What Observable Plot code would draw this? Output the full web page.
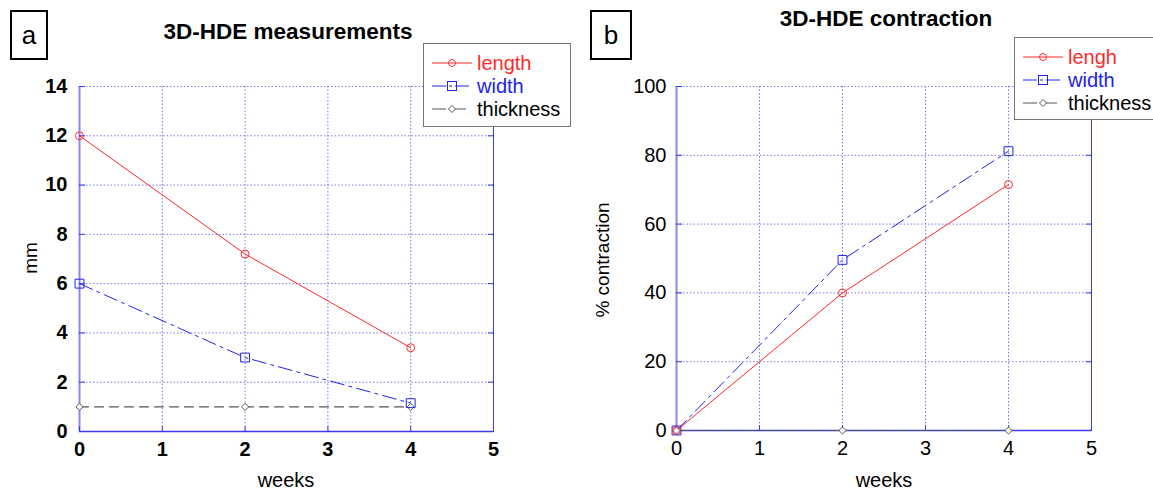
<!DOCTYPE html>
<html>
<head>
<meta charset="utf-8">
<script src="https://cdn.jsdelivr.net/npm/d3@7"></script>
<script src="https://cdn.jsdelivr.net/npm/@observablehq/plot@0.6"></script>
<style>
  body { margin: 0; background: #fff; }
  #wrap { position: relative; width: 1153px; height: 492px; overflow: hidden; font-family: "Liberation Sans", Arial, sans-serif; }
  .panel { position: absolute; top: 0; }
  .tag { position: absolute; border: 2px solid #000; font-size: 26px; text-align: center; box-sizing: border-box; background: #fff; }
  .title { position: absolute; font-weight: bold; font-size: 22.5px; white-space: nowrap; transform: translateX(-50%); }
  .xlab { position: absolute; font-size: 20px; transform: translateX(-50%); white-space: nowrap; }
  .ylab { position: absolute; font-size: 19px; transform: translate(-50%, -50%) rotate(-90deg); white-space: nowrap; }
  .legend { position: absolute; background: #fff; border: 1px solid #777; box-sizing: border-box; }
  .legend .row { position: absolute; left: 7px; height: 22px; display: flex; align-items: center; font-size: 20px; white-space: nowrap; }
  .legend svg { margin-right: 4px; }
</style>
</head>
<body>
<div id="wrap"></div>
<script>
// ---- data ----
const weeks = [0, 2, 4];
const lengthMM = [12, 7.2, 3.4];
const widthMM = [6, 3, 1.15];
const thicknessMM = [1, 1, 1];
const lengthPct = [0, 40, 71.5];
const widthPct = [0, 49.6, 81.2];
const thicknessPct = [0, 0, 0];
const xTicks = [0, 1, 2, 3, 4, 5];
const yTicksA = [0, 2, 4, 6, 8, 10, 12, 14];
const yTicksB = [0, 20, 40, 60, 80, 100];
const seriesNamesA = ["length", "width", "thickness"];
const seriesNamesB = ["lengh", "width", "thickness"];

const RED = "#ff2a2a", BLUE = "#2222ee", GRAY = "#555555", AX = "#3a3aee", GRID = "#6a6aee";

function rows(vals) { return weeks.map((w, i) => ({week: w, v: vals[i]})); }

function panel({data, yDomain, yTicks, width, mL, mR, mT, mB, bold, thickDash, yPad}) {
  const [L, W, T] = data;
  const fw = bold ? "bold" : "normal";
  const marks = [
    Plot.gridX(xTicks.slice(1, -1), {stroke: GRID, strokeOpacity: 0.9, strokeDasharray: "1.5,2"}),
    Plot.gridY(yTicks.slice(1), {stroke: GRID, strokeOpacity: 0.9, strokeDasharray: "1.5,2"}),
    Plot.ruleX([xTicks[0]], {stroke: AX, strokeOpacity: 0.6, strokeWidth: 2}),
    Plot.ruleX([xTicks[xTicks.length - 1]], {stroke: AX, strokeWidth: 1}),
    Plot.ruleY([yTicks[0]], {stroke: AX, strokeWidth: 1.5}),
    Plot.axisX(xTicks, {tickSize: -5, stroke: AX, text: null, label: null}),
    Plot.axisY(yTicks, {tickSize: -6, stroke: AX, text: null, label: null}),
    Plot.axisY(yTicks, {anchor: "right", tickSize: -6, stroke: AX, text: null, label: null}),
    Plot.axisX(xTicks, {tickSize: 0, tickPadding: 10, label: null, fontWeight: fw}),
    Plot.axisY(yTicks, {tickSize: 0, tickPadding: yPad, label: null, fontWeight: fw}),
    Plot.line(rows(T), {x: "week", y: "v", stroke: GRAY, strokeWidth: 1.2, strokeDasharray: thickDash}),
    Plot.line(rows(W), {x: "week", y: "v", stroke: BLUE, strokeWidth: 1, strokeDasharray: "14,5,3,5"}),
    Plot.line(rows(L), {x: "week", y: "v", stroke: RED, strokeWidth: 1}),
    Plot.dot(rows(T), {x: "week", y: "v", symbol: "diamond2", r: 3.2, stroke: GRAY, fill: "white", strokeWidth: 1}),
    Plot.dot(rows(W), {x: "week", y: "v", symbol: "square", r: 5, stroke: BLUE, fill: "none", strokeWidth: 1}),
    Plot.dot(rows(L), {x: "week", y: "v", symbol: "circle", r: 4, stroke: RED, fill: "none", strokeWidth: 1})
  ];
  return Plot.plot({
    width, height: 492,
    marginLeft: mL, marginRight: mR, marginTop: mT, marginBottom: mB,
    x: {domain: [xTicks[0], xTicks[xTicks.length - 1]], axis: null},
    y: {domain: yDomain, axis: null},
    style: {fontFamily: "'Liberation Sans', Arial, sans-serif", fontSize: "20px", color: "#000", background: "transparent", overflow: "visible"},
    marks
  });
}

const wrap = document.getElementById("wrap");

const pa = panel({data: [lengthMM, widthMM, thicknessMM], yDomain: [0, 14], yTicks: yTicksA,
  width: 576, mL: 79, mR: 83, mT: 86, mB: 61, bold: true, thickDash: "9,6", yPad: 12});
pa.classList.add("panel"); pa.style.left = "0px";
wrap.appendChild(pa);

const pb = panel({data: [lengthPct, widthPct, thicknessPct], yDomain: [0, 100], yTicks: yTicksB,
  width: 573, mL: 96, mR: 62, mT: 86, mB: 62, bold: false, thickDash: "12,4,2,4", yPad: 10});
pb.classList.add("panel"); pb.style.left = "580px";
wrap.appendChild(pb);

function add(html) { const d = document.createElement("div"); d.innerHTML = html; const el = d.firstElementChild; wrap.appendChild(el); return el; }

add(`<div class="tag" style="left:10px;top:10px;width:38px;height:50px;line-height:46px;">a</div>`);
add(`<div class="tag" style="left:590px;top:10px;width:42px;height:50px;line-height:46px;">b</div>`);
add(`<div class="title" style="left:288px;top:19px;">3D-HDE measurements</div>`);
add(`<div class="title" style="left:886px;top:6px;">3D-HDE contraction</div>`);
add(`<div class="xlab" style="left:286px;top:469px;">weeks</div>`);
add(`<div class="xlab" style="left:884px;top:469px;">weeks</div>`);
add(`<div class="ylab" style="left:31px;top:258px;">mm</div>`);
add(`<div class="ylab" style="left:603px;top:260px;">% contraction</div>`);

function sample(kind) {
  const st = {
    length: `<line x1="1" y1="9" x2="41" y2="9" stroke="${RED}" stroke-width="1"/><circle cx="21" cy="9" r="3.5" fill="none" stroke="${RED}"/>`,
    width: `<line x1="1" y1="9" x2="41" y2="9" stroke="${BLUE}" stroke-width="1" stroke-dasharray="14,3,3,3"/><rect x="16.5" y="4.5" width="9" height="9" fill="none" stroke="${BLUE}"/>`,
    thickness: `<line x1="1" y1="9" x2="41" y2="9" stroke="${GRAY}" stroke-width="1.2" stroke-dasharray="14,6"/><path d="M21,5.5 L24.5,9 L21,12.5 L17.5,9 Z" fill="white" stroke="${GRAY}"/>`
  };
  return `<svg width="42" height="18">${st[kind]}</svg>`;
}
function legend(names, left, top, w, h, rowTops) {
  const colors = [RED, BLUE, "#000"];
  const kinds = ["length", "width", "thickness"];
  let inner = names.map((n, i) => `<div class="row" style="top:${rowTops[i]}px;color:${colors[i]}">${sample(kinds[i])}<span>${n}</span></div>`).join("");
  add(`<div class="legend" style="left:${left}px;top:${top}px;width:${w}px;height:${h}px;">${inner}</div>`);
}
legend(seriesNamesA, 423, 43, 148, 84, [8, 31, 54]);
legend(seriesNamesB, 1014, 37, 150, 83, [8, 31, 54]);
</script>
</body>
</html>
